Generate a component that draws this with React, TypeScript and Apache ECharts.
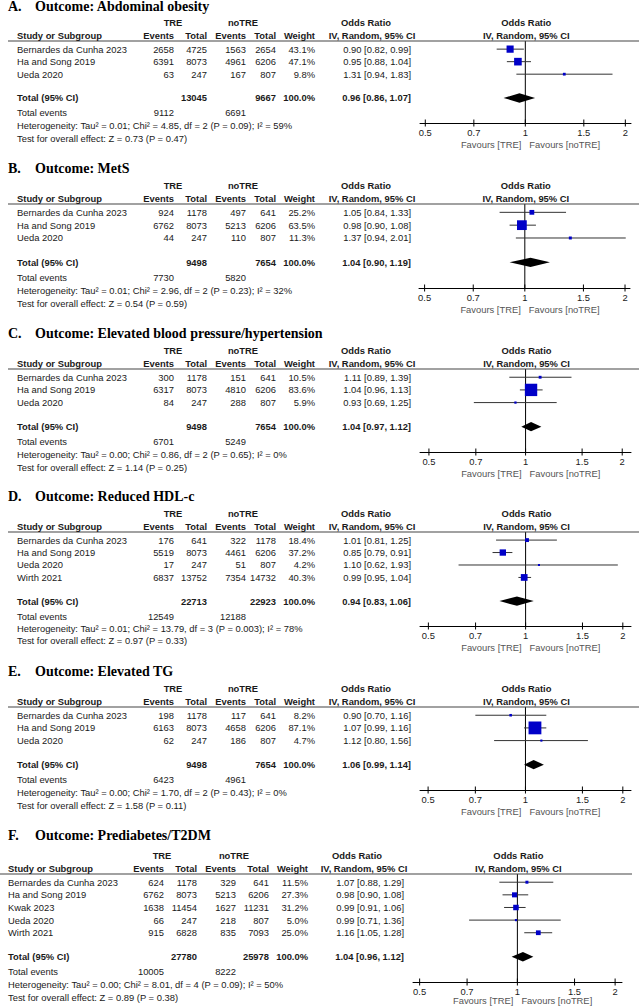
import React, { useEffect, useRef } from "react";
import * as echarts from "echarts";

// ------------------------------------------------------------------ data
const panelLetters = ["A.", "B.", "C.", "D.", "E.", "F."];
const outcomeTitles = [
  "Outcome: Abdominal obesity",
  "Outcome: MetS",
  "Outcome: Elevated blood pressure/hypertension",
  "Outcome: Reduced HDL-c",
  "Outcome: Elevated TG",
  "Outcome: Prediabetes/T2DM",
];
const groupHeaders = ["TRE", "noTRE"];
const columnHeaders = ["Study or Subgroup", "Events", "Total", "Events", "Total", "Weight"];
const effectHeaders = ["Odds Ratio", "IV, Random, 95% CI"];
const tickValues = [0.5, 0.7, 1, 1.5, 2];
const tickLabels = ["0.5", "0.7", "1", "1.5", "2"];
const favoursLabels = ["Favours [TRE]", "Favours [noTRE]"];

// [study, TRE events, TRE total, noTRE events, noTRE total, weight %, OR, lower, upper]
const rowsA = [
  ["Bernardes da Cunha 2023", 2658, 4725, 1563, 2654, 43.1, 0.9, 0.82, 0.99],
  ["Ha and Song 2019", 6391, 8073, 4961, 6206, 47.1, 0.95, 0.88, 1.04],
  ["Ueda 2020", 63, 247, 167, 807, 9.8, 1.31, 0.94, 1.83],
];
// [TRE total, noTRE total, TRE events, noTRE events, OR, lower, upper]
const totalA = [13045, 9667, 9112, 6691, 0.96, 0.86, 1.07];
const statsA = [
  "Heterogeneity: Tau² = 0.01; Chi² = 4.85, df = 2 (P = 0.09); I² = 59%",
  "Test for overall effect: Z = 0.73 (P = 0.47)",
];

const rowsB = [
  ["Bernardes da Cunha 2023", 924, 1178, 497, 641, 25.2, 1.05, 0.84, 1.33],
  ["Ha and Song 2019", 6762, 8073, 5213, 6206, 63.5, 0.98, 0.9, 1.08],
  ["Ueda 2020", 44, 247, 110, 807, 11.3, 1.37, 0.94, 2.01],
];
const totalB = [9498, 7654, 7730, 5820, 1.04, 0.9, 1.19];
const statsB = [
  "Heterogeneity: Tau² = 0.01; Chi² = 2.96, df = 2 (P = 0.23); I² = 32%",
  "Test for overall effect: Z = 0.54 (P = 0.59)",
];

const rowsC = [
  ["Bernardes da Cunha 2023", 300, 1178, 151, 641, 10.5, 1.11, 0.89, 1.39],
  ["Ha and Song 2019", 6317, 8073, 4810, 6206, 83.6, 1.04, 0.96, 1.13],
  ["Ueda 2020", 84, 247, 288, 807, 5.9, 0.93, 0.69, 1.25],
];
const totalC = [9498, 7654, 6701, 5249, 1.04, 0.97, 1.12];
const statsC = [
  "Heterogeneity: Tau² = 0.00; Chi² = 0.86, df = 2 (P = 0.65); I² = 0%",
  "Test for overall effect: Z = 1.14 (P = 0.25)",
];

const rowsD = [
  ["Bernardes da Cunha 2023", 176, 641, 322, 1178, 18.4, 1.01, 0.81, 1.25],
  ["Ha and Song 2019", 5519, 8073, 4461, 6206, 37.2, 0.85, 0.79, 0.91],
  ["Ueda 2020", 17, 247, 51, 807, 4.2, 1.1, 0.62, 1.93],
  ["Wirth 2021", 6837, 13752, 7354, 14732, 40.3, 0.99, 0.95, 1.04],
];
const totalD = [22713, 22923, 12549, 12188, 0.94, 0.83, 1.06];
const statsD = [
  "Heterogeneity: Tau² = 0.01; Chi² = 13.79, df = 3 (P = 0.003); I² = 78%",
  "Test for overall effect: Z = 0.97 (P = 0.33)",
];

const rowsE = [
  ["Bernardes da Cunha 2023", 198, 1178, 117, 641, 8.2, 0.9, 0.7, 1.16],
  ["Ha and Song 2019", 6163, 8073, 4658, 6206, 87.1, 1.07, 0.99, 1.16],
  ["Ueda 2020", 62, 247, 186, 807, 4.7, 1.12, 0.8, 1.56],
];
const totalE = [9498, 7654, 6423, 4961, 1.06, 0.99, 1.14];
const statsE = [
  "Heterogeneity: Tau² = 0.00; Chi² = 1.70, df = 2 (P = 0.43); I² = 0%",
  "Test for overall effect: Z = 1.58 (P = 0.11)",
];

const rowsF = [
  ["Bernardes da Cunha 2023", 624, 1178, 329, 641, 11.5, 1.07, 0.88, 1.29],
  ["Ha and Song 2019", 6762, 8073, 5213, 6206, 27.3, 0.98, 0.9, 1.08],
  ["Kwak 2023", 1638, 11454, 1627, 11231, 31.2, 0.99, 0.91, 1.06],
  ["Ueda 2020", 66, 247, 218, 807, 5.0, 0.99, 0.71, 1.36],
  ["Wirth 2021", 915, 6828, 835, 7093, 25.0, 1.16, 1.05, 1.28],
];
const totalF = [27780, 25978, 10005, 8222, 1.04, 0.96, 1.12];
const statsF = [
  "Heterogeneity: Tau² = 0.00; Chi² = 8.01, df = 4 (P = 0.09); I² = 50%",
  "Test for overall effect: Z = 0.89 (P = 0.38)",
];

const panels = [
  { rows: rowsA, total: totalA, stats: statsA },
  { rows: rowsB, total: totalB, stats: statsB },
  { rows: rowsC, total: totalC, stats: statsC },
  { rows: rowsD, total: totalD, stats: statsD },
  { rows: rowsE, total: totalE, stats: statsE },
  { rows: rowsF, total: totalF, stats: statsF },
];

// ------------------------------------------------------------------ layout
const W = 639;
const H = 1006;
const SANS = "'Liberation Sans', Arial, Helvetica, sans-serif";
const SERIF = "'Liberation Serif', 'Times New Roman', serif";
const FS = 9.4;
const TEXT = "#1a1a1a";

const COLS_AE = { study: 17, ev1: 174, tot1: 207, ev2: 246, tot2: 276, wt: 315, orR: 411, tre: 173, notre: 243, orHead: 366, ivHead: 372 };
const COLS_F = { study: 8, ev1: 164, tot1: 197, ev2: 236, tot2: 269, wt: 308, orR: 404, tre: 162, notre: 234, orHead: 357, ivHead: 364 };

const layouts = [
  { titleY: 6, ruleY: 41, axisY: 123, favDy: 21, cols: COLS_AE, gridL: 420, gridR: 8, xMin: 0.482, xMax: 2.08, ruleX0: 8, ruleX1: 639 },
  { titleY: 168, ruleY: 204, axisY: 288, favDy: 21, cols: COLS_AE, gridL: 419, gridR: 9, xMin: 0.481, xMax: 2.07, ruleX0: 8, ruleX1: 639 },
  { titleY: 333, ruleY: 369, axisY: 452, favDy: 21, cols: COLS_AE, gridL: 420, gridR: 8, xMin: 0.469, xMax: 2.13, ruleX0: 8, ruleX1: 639 },
  { titleY: 496, ruleY: 532, axisY: 626, favDy: 21, cols: COLS_AE, gridL: 420, gridR: 8, xMin: 0.471, xMax: 2.12, ruleX0: 8, ruleX1: 639 },
  { titleY: 671, ruleY: 707, axisY: 790, favDy: 21, cols: COLS_AE, gridL: 420, gridR: 8, xMin: 0.472, xMax: 2.12, ruleX0: 8, ruleX1: 639 },
  { titleY: 835, ruleY: 874, axisY: 982, favDy: 18, cols: COLS_F, gridL: 413, gridR: 17, xMin: 0.477, xMax: 2.1, ruleX0: 0, ruleX1: 632 },
];

const Y_TOP = -0.65;
const yBottom = (n: number) => n + 2.9;

function T(x: number, y: number, text: string, align: string, bold = false, size = FS, fill = TEXT, family = SANS) {
  return {
    type: "text",
    silent: true,
    z2: 5,
    style: {
      x,
      y,
      text,
      align,
      verticalAlign: "middle",
      font: `${bold ? "bold " : ""}${size}px ${family}`,
      fill,
    },
  };
}

function L(x1: number, y1: number, x2: number, y2: number, stroke = "#000", lineWidth = 1, z2 = 1) {
  return { type: "line", silent: true, z2, shape: { x1, y1, x2, y2 }, style: { stroke, lineWidth } };
}

const fmtOR = (o: number, lo: number, hi: number) => `${o.toFixed(2)} [${lo.toFixed(2)}, ${hi.toFixed(2)}]`;

function makeRenderItem(p: number) {
  const P: any = panels[p];
  const Lay: any = layouts[p];
  const C: any = Lay.cols;
  const n = P.rows.length;
  return (params: any, api: any) => {
    const k = params.dataIndex;
    const Y = (r: number) => api.coord([1, r])[1];
    const X = (v: number) => api.coord([v, 1])[0];
    const kids: any[] = [];
    if (k === 0) {
      const yRule = Y(Y_TOP);
      const yAx = Y(yBottom(n));
      const x1 = X(1);
      // title
      kids.push(T(8, Lay.titleY, panelLetters[p], "left", true, 14, "#000", SERIF));
      kids.push(T(35, Lay.titleY, outcomeTitles[p], "left", true, 14, "#000", SERIF));
      // header rows
      const h1 = Y(-2.1);
      const h2 = Y(-1.08);
      kids.push(T(C.tre, h1, groupHeaders[0], "center", true));
      kids.push(T(C.notre, h1, groupHeaders[1], "center", true));
      kids.push(T(C.orHead, h1, effectHeaders[0], "center", true));
      kids.push(T(x1 + 1, h1, effectHeaders[0], "center", true));
      kids.push(T(C.study, h2, columnHeaders[0], "left", true));
      kids.push(T(C.ev1, h2, columnHeaders[1], "right", true));
      kids.push(T(C.tot1, h2, columnHeaders[2], "right", true));
      kids.push(T(C.ev2, h2, columnHeaders[3], "right", true));
      kids.push(T(C.tot2, h2, columnHeaders[4], "right", true));
      kids.push(T(C.wt, h2, columnHeaders[5], "right", true));
      kids.push(T(C.ivHead, h2, effectHeaders[1], "center", true));
      kids.push(T(x1 + 1, h2, effectHeaders[1], "center", true));
      // rule under header
      kids.push(L(Lay.ruleX0, yRule, Lay.ruleX1, yRule, "#444", 1.2));
      // line of no effect
      kids.push(L(x1, yRule, x1, yAx, "#000", 1, 0));
      // ticks and tick labels
      tickValues.forEach((v, j) => {
        const x = X(v);
        kids.push(L(x, yAx - 3.5, x, yAx + 3.5, "#000", 1));
        kids.push(T(x, yAx + 9, tickLabels[j], "center"));
      });
      kids.push(T(x1 - 4, yAx + Lay.favDy, favoursLabels[0], "right", false, FS, "#555"));
      kids.push(T(x1 + 4, yAx + Lay.favDy, favoursLabels[1], "left", false, FS, "#555"));
      // footers
      const t = P.total;
      const f1 = Y(n + 2.1);
      kids.push(T(C.study, f1, "Total events", "left"));
      kids.push(T(C.ev1, f1, String(t[2]), "right"));
      kids.push(T(C.ev2, f1, String(t[3]), "right"));
      kids.push(T(C.study, Y(n + 3.1), P.stats[0], "left"));
      kids.push(T(C.study, Y(n + 4.1), P.stats[1], "left"));
    } else if (k <= n) {
      const r = P.rows[k - 1];
      const y = Y(api.value(1));
      kids.push(T(C.study, y, r[0], "left"));
      kids.push(T(C.ev1, y, String(r[1]), "right"));
      kids.push(T(C.tot1, y, String(r[2]), "right"));
      kids.push(T(C.ev2, y, String(r[3]), "right"));
      kids.push(T(C.tot2, y, String(r[4]), "right"));
      kids.push(T(C.wt, y, `${r[5].toFixed(1)}%`, "right"));
      kids.push(T(C.orR, y, fmtOR(r[6], r[7], r[8]), "right"));
      const xo = X(api.value(0));
      const xl = X(api.value(2));
      const xh = X(api.value(3));
      const s = 1.5 + 0.13 * api.value(4);
      kids.push(L(xl, y, xh, y, "#333", 1, 1));
      kids.push({ type: "rect", silent: true, z2: 3, shape: { x: xo - s / 2, y: y - s / 2, width: s, height: s }, style: { fill: "#0000c8" } });
    } else {
      const t = P.total;
      const y = Y(api.value(1));
      kids.push(T(C.study, y, "Total (95% CI)", "left", true));
      kids.push(T(C.tot1, y, String(t[0]), "right", true));
      kids.push(T(C.tot2, y, String(t[1]), "right", true));
      kids.push(T(C.wt, y, "100.0%", "right", true));
      kids.push(T(C.orR, y, fmtOR(t[4], t[5], t[6]), "right", true));
      const xo = X(api.value(0));
      const xl = X(api.value(2));
      const xh = X(api.value(3));
      const hh = 4.7;
      kids.push({
        type: "polygon",
        silent: true,
        z2: 3,
        shape: { points: [[xl, y], [xo, y - hh], [xh, y], [xo, y + hh]] },
        style: { fill: "#000" },
      });
    }
    return { type: "group", children: kids };
  };
}

function buildOption() {
  return {
    animation: false,
    backgroundColor: "#fff",
    grid: layouts.map((Lay) => ({
      left: Lay.gridL,
      right: Lay.gridR,
      top: Lay.ruleY,
      bottom: H - Lay.axisY,
      containLabel: false,
      outerBoundsMode: "none",
    })),
    xAxis: layouts.map((Lay, p) => ({
      gridIndex: p,
      type: "log",
      logBase: 10,
      min: Lay.xMin,
      max: Lay.xMax,
      axisLine: { show: true, onZero: false, lineStyle: { color: "#000", width: 1 } },
      axisTick: { show: false },
      axisLabel: { show: false },
      splitLine: { show: false },
      minorTick: { show: false },
      minorSplitLine: { show: false },
    })),
    yAxis: panels.map((P, p) => ({
      gridIndex: p,
      type: "value",
      inverse: true,
      min: Y_TOP,
      max: yBottom(P.rows.length),
      show: false,
    })),
    series: panels.map((P, p) => {
      const n = P.rows.length;
      const t = P.total;
      const data = [
        [1, Y_TOP, 1, 1, 0],
        ...P.rows.map((r: any, i: number) => [r[6], i, r[7], r[8], r[5]]),
        [t[4], n + 0.9, t[5], t[6], 100],
      ];
      return {
        type: "custom",
        xAxisIndex: p,
        yAxisIndex: p,
        clip: false,
        silent: true,
        encode: { x: [0, 2, 3], y: 1 },
        renderItem: makeRenderItem(p),
        data,
      };
    }),
  };
}

export default function App() {
  const ref = useRef<HTMLDivElement>(null);
  useEffect(() => {
    document.body.style.margin = "0";
    if (!ref.current) return;
    const chart = echarts.init(ref.current, undefined, { renderer: "svg", width: W, height: H });
    chart.setOption(buildOption() as any);
    return () => chart.dispose();
  }, []);
  return <div ref={ref} style={{ width: W, height: H, position: "absolute", left: 0, top: 0 }} />;
}
